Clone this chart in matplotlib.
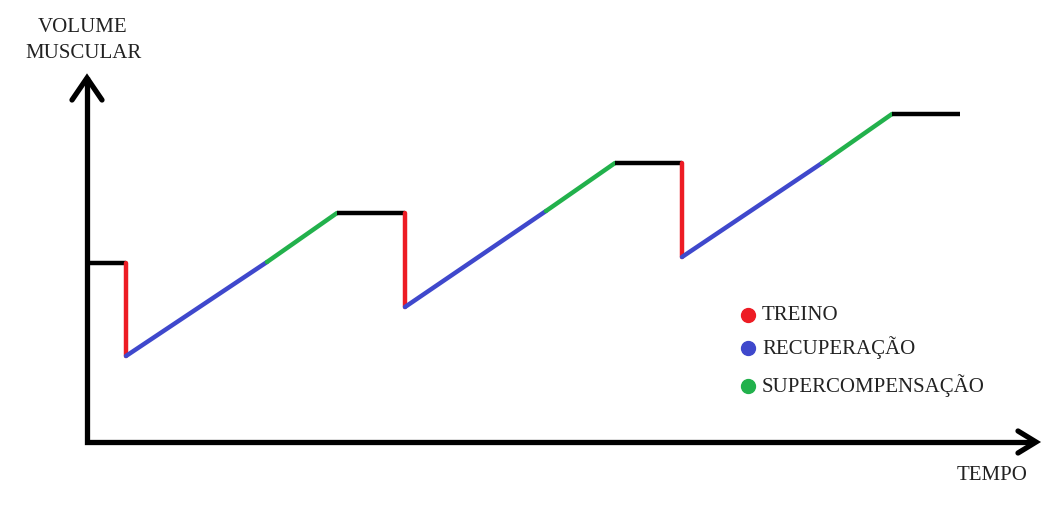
import matplotlib
matplotlib.use('Agg')
import matplotlib.pyplot as plt

# curve nodes, in picture pixels (y grows downwards)
tempo = [87, 126, 126, 267, 337, 405, 405, 546, 615, 682, 682, 822, 892, 960]
volume = [263, 263, 356, 262, 213, 213, 307, 211, 163, 163, 257, 163, 114, 114]
# phase of each segment between consecutive nodes
fases = ['base', 'treino', 'recup', 'super', 'base', 'treino', 'recup', 'super',
         'base', 'treino', 'recup', 'super', 'base']

cores = {'base': '#000000', 'treino': '#ED1C24', 'recup': '#3F48CC', 'super': '#22B14C'}
legenda = [('treino', 'TREINO'), ('recup', 'RECUPERAÇÃO'), ('super', 'SUPERCOMPENSAÇÃO')]
legenda_y = [315, 348, 386]

W, H = 1052, 522
fig = plt.figure(figsize=(W / 100, H / 100), dpi=100)
ax = fig.add_axes([0, 0, 1, 1])
ax.set_xlim(0, W)
ax.set_ylim(H, 0)
ax.axis('off')

fonte = dict(family=['Liberation Serif', 'DejaVu Serif'], fontsize=15, color='#222222')

# axes with open arrow heads
eixo = dict(color='black', lw=3.8, solid_capstyle='butt', solid_joinstyle='miter')
ax.plot([87, 87, 1034], [77, 442, 442], **eixo)
ax.plot([72, 87, 102], [100, 78, 100], **dict(eixo, solid_capstyle='round'))
ax.plot([1018, 1036, 1018], [431, 442, 453], **dict(eixo, solid_capstyle='round'))

# the curve, one segment per phase
for i, f in enumerate(fases):
    ax.plot(tempo[i:i + 2], volume[i:i + 2], color=cores[f], lw=3.2,
            solid_capstyle='round' if f != 'base' else 'butt')

# legend
for (f, rotulo), y in zip(legenda, legenda_y):
    ax.plot(748, y, 'o', color=cores[f], ms=10)
    ax.text(762, y, rotulo, ha='left', va='center', **fonte)

ax.text(83, 28, 'VOLUME', ha='center', va='center', **fonte)
ax.text(83, 53, 'MUSCULAR', ha='center', va='center', **fonte)
ax.text(992, 475, 'TEMPO', ha='center', va='center', **fonte)

fig.savefig('out.png', dpi=100, facecolor='white')
